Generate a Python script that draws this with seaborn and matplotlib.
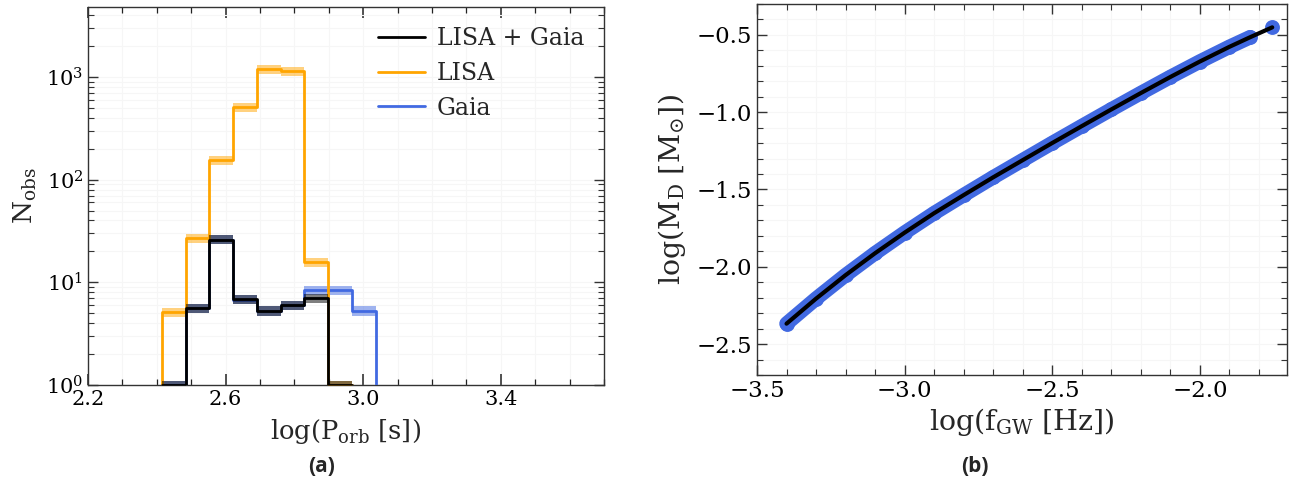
import numpy as np
import matplotlib
matplotlib.use("Agg")
import matplotlib.pyplot as plt
import seaborn as sns
from matplotlib.ticker import MultipleLocator, LogLocator, NullFormatter

# ---------------- data: panel (a) ----------------
bin_edges = [2.346, 2.415, 2.484, 2.553, 2.622, 2.691, 2.760, 2.829, 2.898, 2.967, 3.036, 3.105]
n_lisa_gaia = [0, 1, 5.6, 26, 6.9, 5.3, 6.0, 7.0, 1, 0, 0]
n_lisa      = [0, 5.1, 27, 155, 510, 1190, 1135, 15.7, 1, 0, 0]
n_gaia      = [0, 1, 5.6, 26, 6.8, 5.3, 6.0, 8.4, 8.4, 5.3, 0]
err_lisa_gaia = [0, 0.1, 0.6, 2.6, 0.7, 0.55, 0.6, 0.7, 0.1, 0, 0]
err_lisa      = [0, 0.5, 2.7, 15, 50, 115, 110, 1.6, 0.1, 0, 0]
err_gaia      = [0, 0.1, 0.6, 2.6, 0.7, 0.55, 0.6, 0.9, 0.9, 0.6, 0]
series_names = ["LISA + Gaia", "LISA", "Gaia"]
x_ticks_a = [2.2, 2.6, 3.0, 3.4]

# ---------------- data: panel (b) ----------------
log_fgw = [-3.40, -3.30, -3.20, -3.10, -3.00, -2.90, -2.80, -2.70, -2.60, -2.50,
           -2.40, -2.30, -2.20, -2.10, -2.00, -1.90, -1.83, -1.755]
log_md = [-2.368, -2.206, -2.054, -1.912, -1.779, -1.653, -1.536, -1.421, -1.310, -1.199,
          -1.090, -0.982, -0.876, -0.772, -0.672, -0.577, -0.515, -0.451]
x_ticks_b = [-3.5, -3.0, -2.5, -2.0]
y_ticks_b = [-2.5, -2.0, -1.5, -1.0, -0.5]

# ---------------- style ----------------
sns.set_theme(style="ticks")
plt.rcParams["font.family"] = ["DejaVu Serif"]
plt.rcParams["mathtext.fontset"] = "dejavuserif"
plt.rcParams["axes.edgecolor"] = "#333333"
plt.rcParams["axes.linewidth"] = 1.0

W, H = 1301, 492
fig = plt.figure(figsize=(W / 100, H / 100), dpi=100)
axA = fig.add_axes([88 / W, 1 - 385 / H, (604 - 88) / W, (385 - 7) / H])
axB = fig.add_axes([757 / W, 1 - 375 / H, (1287 - 757) / W, (375 - 4) / H])

C_BOTH, C_LISA, C_GAIA = "black", "#FFA500", "#4169E1"

edges = np.array(bin_edges)
axA.set_yscale("log")

def draw_series(ax, counts, errs, color, label, z):
    counts = np.array(counts, float)
    errs = np.array(errs, float)
    ys = np.append(counts, counts[-1])
    ys_plot = np.where(ys > 0, ys, 1e-3)
    sns.lineplot(x=edges, y=ys_plot, drawstyle="steps-post", color=color, linewidth=2.0,
                 ax=ax, label=label, zorder=z, sort=False, estimator=None)
    for i, (v, e) in enumerate(zip(counts, errs)):
        if v > 0:
            ax.fill_between([edges[i], edges[i + 1]], [v - e] * 2, [v + e] * 2,
                            color=color, alpha=0.5, linewidth=0, zorder=z - 0.5)

draw_series(axA, n_gaia, err_gaia, C_GAIA, series_names[2], 3)
draw_series(axA, n_lisa, err_lisa, C_LISA, series_names[1], 4)
draw_series(axA, n_lisa_gaia, err_lisa_gaia, C_BOTH, series_names[0], 5)

axA.set_xlim(2.2, 3.7)
axA.set_ylim(1, 4800)
axA.set_xticks(x_ticks_a)
axA.set_xticklabels([f"{t:.1f}" for t in x_ticks_a])
axA.xaxis.set_minor_locator(MultipleLocator(0.1))
axA.yaxis.set_major_locator(LogLocator(base=10, numticks=10))
axA.yaxis.set_minor_locator(LogLocator(base=10, subs=np.arange(2, 10) * 1.0, numticks=20))
axA.yaxis.set_minor_formatter(NullFormatter())
axA.set_xlabel(r"log(P$_{\rm orb}$ [s])", fontsize=18.5, labelpad=6)
axA.set_ylabel(r"N$_{\rm obs}$", fontsize=19, labelpad=5)

h = {l.get_label(): l for l in axA.get_lines()}
axA.legend([h[n] for n in series_names], series_names, loc="upper right",
           frameon=False, fontsize=17, handlelength=2.0, handletextpad=0.5,
           borderaxespad=0.45, labelspacing=0.5)

# panel (b)
fx = np.array(log_fgw)
my = np.array(log_md)
sns.lineplot(x=fx[:-1], y=my[:-1], color=C_GAIA, linewidth=10.5, ax=axB,
             solid_capstyle="round", sort=False, zorder=2)
sns.scatterplot(x=fx, y=my, color=C_GAIA, s=115, linewidth=0, ax=axB, zorder=2)
sns.lineplot(x=fx, y=my, color="black", linewidth=3.0, ax=axB, sort=False, zorder=3)
axB.set_xlim(-3.5, -1.705)
axB.set_ylim(-2.7, -0.3)
axB.set_xticks(x_ticks_b)
axB.set_xticklabels([f"\u2212{abs(t):.1f}" for t in x_ticks_b])
axB.set_yticks(y_ticks_b)
axB.set_yticklabels([f"\u2212{abs(t):.1f}" for t in y_ticks_b])
axB.xaxis.set_minor_locator(MultipleLocator(0.1))
axB.yaxis.set_minor_locator(MultipleLocator(0.1))
axB.set_xlabel(r"log(f$_{\rm GW}$ [Hz])", fontsize=20.5, labelpad=3)
axB.set_ylabel(r"log(M$_{\rm D}$ [M$_{\odot}$])", fontsize=20.5, labelpad=6)

for ax, lsz in ((axA, 15), (axB, 16.5)):
    ax.set_facecolor("white")
    ax.grid(True, which="both", color="#f6f6f6", linewidth=0.8)
    ax.set_axisbelow("line")
    ax.tick_params(axis="both", which="both", direction="in", top=True, right=True,
                   bottom=True, left=True, color="#333333", labelcolor="black")
    ax.tick_params(axis="both", which="major", length=7, width=1.0, labelsize=lsz)
    ax.tick_params(axis="both", which="minor", length=4, width=0.8)
    for s in ax.spines.values():
        s.set_visible(True)
        s.set_color("#333333")

# make x ticks on the histogram panel explicit
axA.tick_params(axis="x", which="major", length=8, width=1.1, color="#222222",
                top=True, bottom=True, direction="in")
axA.tick_params(axis="x", which="minor", length=4.5, width=0.9, color="#222222",
                top=True, bottom=True, direction="in")

fig.text(322 / W, 1 - 466 / H, "(a)", ha="center", va="center", fontsize=15,
         fontweight="bold", family="Open Sans")
fig.text(975 / W, 1 - 466 / H, "(b)", ha="center", va="center", fontsize=15,
         fontweight="bold", family="Open Sans")

fig.savefig("out.png", dpi=100, facecolor="white")
